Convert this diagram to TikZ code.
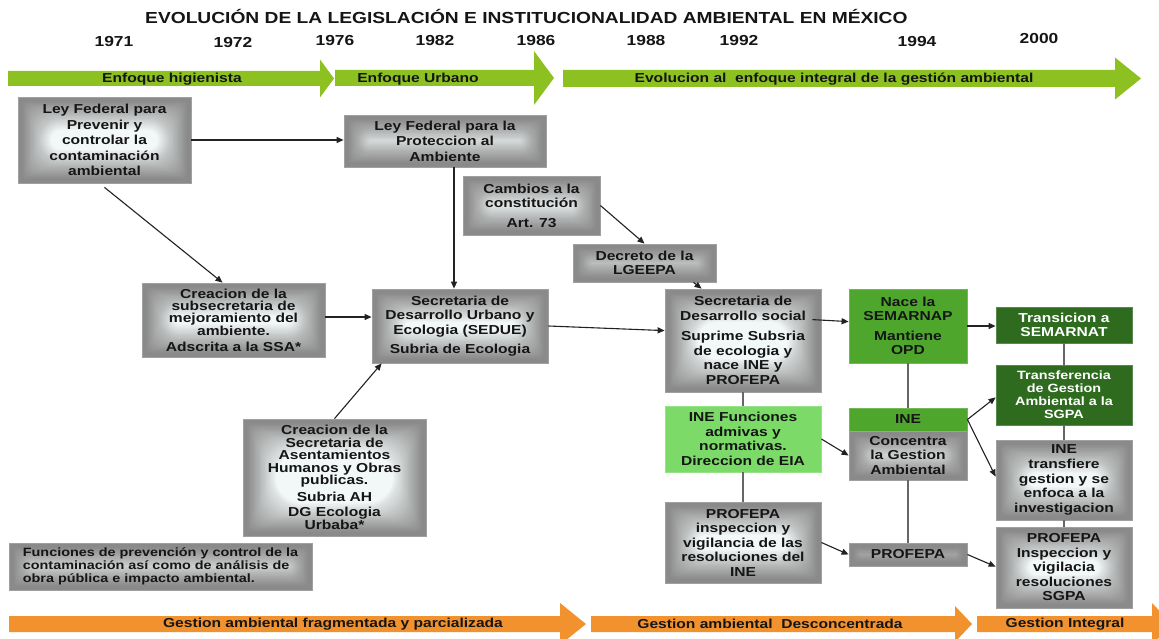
\documentclass[tikz,border=0pt]{standalone}
\usepackage{fontspec}
\setmainfont{Liberation Sans}[FakeStretch=1.2]
\usetikzlibrary{arrows.meta,calc}
\definecolor{boxout}{HTML}{8A8A8A}
\definecolor{boxin}{HTML}{F2F7F7}
\definecolor{boxedge}{HTML}{A0A0A0}
\definecolor{grnA}{HTML}{4EA62D}
\definecolor{grnL}{HTML}{7CDB68}
\definecolor{grnD}{HTML}{2E6B1F}
\definecolor{tlgreen}{HTML}{8DC021}
\definecolor{tlorange}{HTML}{F2922F}
\definecolor{txt}{HTML}{151515}
\definecolor{conn}{HTML}{222222}
\definecolor{lineg}{HTML}{666666}
\newcommand\bx[7]{%
 \pgfmathsetmacro\bxw{#5-#3}\pgfmathsetmacro\bxh{#6-#4}%
 \pgfmathsetmacro\bxx{(#3+#5)/2}\pgfmathsetmacro\bxy{(#4+#6)/2}%
 \node[#1, minimum width=\bxw pt, minimum height=\bxh pt] (#2) at (\bxx,\bxy) {#7};}
\newcommand\tlarrow[8]{% colour, x0, xh, xt, yc, bh, hh, name
 \fill[#1] (#2,#5-#6) -- (#3,#5-#6) -- (#3,#5-#7) -- (#4,#5) -- (#3,#5+#7) -- (#3,#5+#6) -- (#2,#5+#6) -- cycle;
 \coordinate (#8) at (#2,#5);}
\tikzset{
 framegrad/.style={path picture={
   \path (path picture bounding box.south west); \pgfgetlastxy\bxsx\bxsy
   \path (path picture bounding box.north east); \pgfgetlastxy\bxnx\bxny
   \pgfmathsetmacro\bxlim{min(\bxnx-\bxsx,\bxny-\bxsy)/2}
   \fill[boxout] (path picture bounding box.south west) rectangle (path picture bounding box.north east);
   \foreach \bxi in {0,...,24} {
     \pgfmathsetmacro\bxd{3+\bxi*1.25}
     \pgfmathsetmacro\bxr{min(2+\bxi*1.4,\bxlim-\bxd)}
     \pgfmathtruncatemacro\bxok{(\bxd<\bxlim-0.3)}
     \pgfmathsetmacro\bxm{min(100,100*((\bxi/24)^1.1))}
     \ifnum\bxok=1
       \fill[boxin!\bxm!boxout, rounded corners=\bxr pt] ([xshift=\bxd pt,yshift=\bxd pt]path picture bounding box.south west) rectangle ([xshift=-\bxd pt,yshift=-\bxd pt]path picture bounding box.north east);
     \fi
   }
 }},
 basefont/.style={font=\bfseries\fontsize{13}{14.5}\selectfont},
 gbox/.style={rectangle, draw=boxedge, line width=0.8pt, framegrad, align=center, text=txt, inner sep=1pt, basefont},
 greenbox/.style={rectangle, draw=grnA!80!white, line width=0.8pt, fill=grnA, align=center, text=txt, inner sep=1pt, basefont},
 lightbox/.style={rectangle, draw=grnL!80!white, line width=0.8pt, fill=grnL, align=center, text=txt, inner sep=1pt, basefont},
 darkbox/.style={rectangle, draw=grnD!80!white, line width=0.8pt, fill=grnD, align=center, text=white, inner sep=1pt, basefont},
 arr/.style={draw=conn, line width=1.1pt, -{Triangle[length=7pt,width=6pt]}},
 plain/.style={draw=lineg, line width=1.6pt},
 year/.style={font=\bfseries\fontsize{14.5}{16}\selectfont, text=txt, inner sep=0pt},
 tllabel/.style={font=\bfseries\fontsize{13}{14}\selectfont, text=txt, inner sep=0pt},
 titletext/.style={font=\bfseries\fontsize{16}{18}\selectfont, text=txt, inner sep=0pt}
}
\begin{document}
\begin{tikzpicture}[x=1pt,y=-1pt]
\useasboundingbox (0,0) rectangle (1159,639);
\fill[white] (0,0) rectangle (1159,639);
\clip (0,0) rectangle (1159,639);
% title and years
\node[titletext, anchor=west] (title) at (145,16) {EVOLUCIÓN DE LA LEGISLACIÓN E INSTITUCIONALIDAD AMBIENTAL EN MÉXICO};
\node[year] (y1971) at (114,42) {1971};
\node[year] (y1972) at (233,43) {1972};
\node[year] (y1976) at (335,41) {1976};
\node[year] (y1982) at (435,41) {1982};
\node[year] (y1986) at (536,41) {1986};
\node[year] (y1988) at (646,41) {1988};
\node[year] (y1992) at (739,41) {1992};
\node[year] (y1994) at (917,42) {1994};
\node[year] (y2000) at (1039,39) {2000};
% timeline arrows
\tlarrow{tlgreen}{8}{320}{334}{78.5}{7.5}{19}{g1}
\tlarrow{tlgreen}{335}{534}{554}{78}{8}{27}{g2}
\tlarrow{tlgreen}{563}{1115}{1141}{78.5}{8.5}{21}{g3}
\node[tllabel] (lg1) at (172,79) {Enfoque higienista};
\node[tllabel] (lg2) at (418,79) {Enfoque Urbano};
\node[tllabel] (lg3) at (834,79) {Evolucion al\ \ enfoque integral de la gestión ambiental};
\tlarrow{tlorange}{9}{560}{586}{624}{8}{21}{o1}
\tlarrow{tlorange}{591}{955}{972}{624}{8}{18}{o2}
\tlarrow{tlorange}{977}{1152}{1172}{624}{8}{21}{o3}
\node[tllabel] (lo1) at (333,624) {Gestion ambiental fragmentada y parcializada};
\node[tllabel] (lo2) at (770,624) {Gestion ambiental\ \ Desconcentrada};
\node[tllabel] (lo3) at (1065,624) {Gestion Integral};
% boxes
\bx{gbox,font=\bfseries\fontsize{13}{15.5}\selectfont}{A}{18}{97}{191}{183}{Ley Federal para\\Prevenir y\\controlar la\\contaminación\\ambiental}
\bx{gbox,font=\bfseries\fontsize{13}{15.5}\selectfont}{B}{344}{115}{546}{167}{Ley Federal para la\\Proteccion al\\Ambiente}
\bx{gbox}{C}{463}{176}{600}{235}{Cambios a la\\constitución\\[5pt]Art. 73}
\bx{gbox}{D}{573}{244}{716}{282}{Decreto de la\\LGEEPA}
\bx{gbox,font=\bfseries\fontsize{13}{12}\selectfont}{E}{142}{283}{325}{357}{Creacion de la\\subsecretaria de\\mejoramiento del\\ambiente.\\[4pt]Adscrita a la SSA*}
\bx{gbox}{F}{372}{289}{548}{363}{Secretaria de\\Desarrollo Urbano y\\Ecologia (SEDUE)\\[5pt]Subria de Ecologia}
\bx{gbox}{G}{665}{289}{821}{392}{Secretaria de\\Desarrollo social\\[6pt]Suprime Subsria\\de ecologia y\\nace INE y\\PROFEPA}
\bx{gbox,font=\bfseries\fontsize{13}{12.5}\selectfont}{H}{243}{419}{426}{536}{Creacion de la\\Secretaria de\\Asentamientos\\Humanos y Obras\\publicas.\\[4pt]Subria AH\\[3pt]DG Ecologia\\Urbaba*}
\bx{gbox,align=left,font=\bfseries\fontsize{12}{13}\selectfont}{I}{9}{543}{312}{590}{Funciones de prevención y control de la\\contaminación así como de análisis de\\obra pública e impacto ambiental.}
\bx{lightbox}{J}{665}{406}{821}{472}{INE Funciones\\admivas y\\normativas.\\Direccion de EIA}
\bx{gbox}{K}{665}{502}{821}{583}{PROFEPA\\inspeccion y\\vigilancia de las\\resoluciones del\\INE}
\bx{greenbox,font=\bfseries\fontsize{13}{13.5}\selectfont}{L}{849}{289}{967}{363}{Nace la\\SEMARNAP\\[7pt]Mantiene\\OPD}
\bx{greenbox}{M1}{849}{408}{967}{431}{INE}
\bx{gbox}{M2}{849}{431}{967}{480}{Concentra\\la Gestion\\Ambiental}
\bx{gbox}{N}{849}{543}{967}{566}{PROFEPA}
\bx{darkbox,font=\bfseries\fontsize{13}{13.5}\selectfont}{O}{996}{307}{1132}{343}{Transicion a\\SEMARNAT}
\bx{darkbox,font=\bfseries\fontsize{12}{13}\selectfont}{P}{996}{365}{1132}{425}{Transferencia\\de Gestion\\Ambiental a la\\SGPA}
\bx{gbox,font=\bfseries\fontsize{13}{14.7}\selectfont}{Q}{996}{440}{1132}{520}{INE\\transfiere\\gestion y se\\enfoca a la\\investigacion}
\bx{gbox}{R}{996}{527}{1132}{608}{PROFEPA\\Inspeccion y\\vigilacia\\resoluciones\\SGPA}
% connectors
\coordinate (bf) at ($(B.south)+(9,0)$);
\draw[arr] (A.east) -- (A.east -| B.west);
\draw[arr] ([yshift=-4pt]A.south) -- ($(E.north west)!0.44!(E.north east)$);
\draw[arr] (bf) -- (bf |- F.north);
\draw[arr] ([yshift=3pt]E.east) -- ([yshift=3pt]E.east -| F.west);
\draw[arr] (H.north) -- ($(F.south west)+(10,0)$);
\draw[arr] (C.east) -- (D.north);
\draw[arr] ($(D.south)+(49,0)$) -- ($(G.north west)+(37,0)$);
\draw[arr] (F.east) -- ($(G.north west)+(0,42)$);
\draw[arr] ($(G.north east)+(-9,31)$) -- ($(L.north west)+(0,33)$);
\draw[plain] (G.south) -- (J.north);
\draw[plain] (J.south) -- (K.north);
\draw[arr] (J.east) -- (M2.west);
\draw[arr] (K.east) -- (N.west);
\draw[plain] (L.south) -- (M1.north);
\draw[plain] (M2.south) -- (N.north);
\draw[arr] (L.east) -- (L.east -| O.west);
\draw[plain] (O.south) -- (P.north);
\draw[plain] (P.south) -- (Q.north);
\draw[plain] (Q.south) -- (R.north);
\draw[arr] (M1.east) -- ($(P.south west)+(0,-28)$);
\draw[arr] (M1.east) -- ($(Q.north west)+(0,37)$);
\draw[arr] (N.east) -- ($(R.north west)+(0,40)$);
\end{tikzpicture}
\end{document}
